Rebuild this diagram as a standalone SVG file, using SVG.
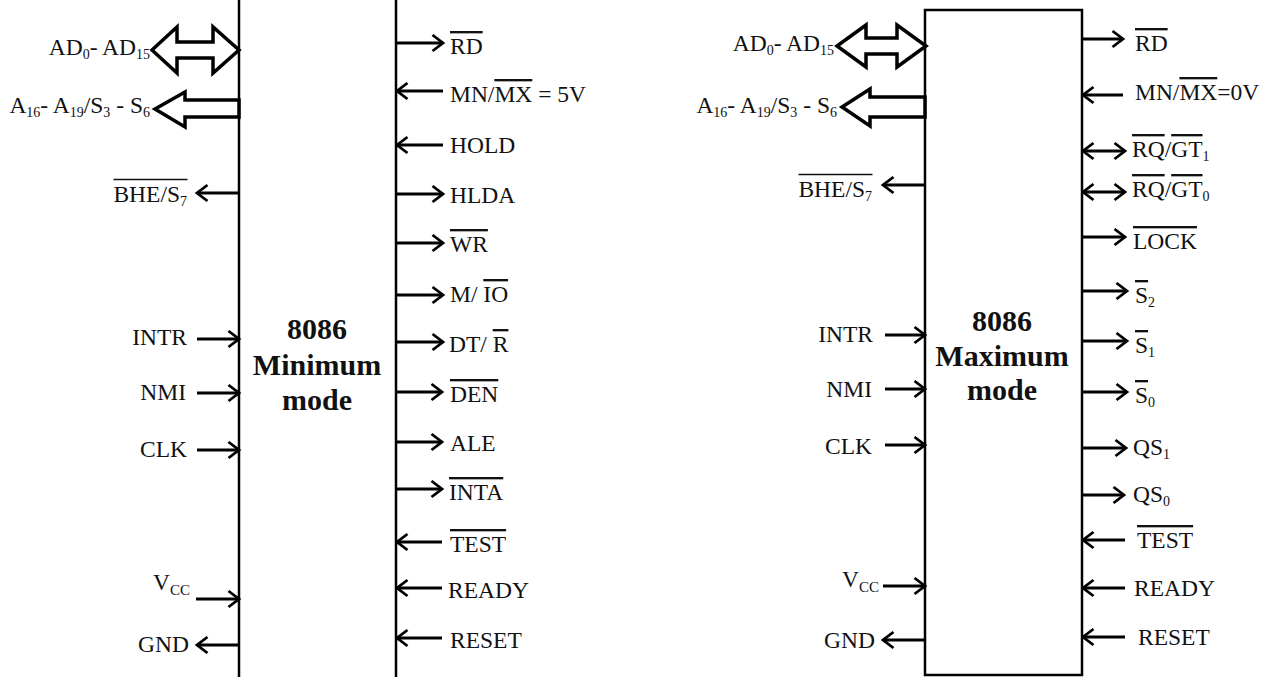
<svg xmlns="http://www.w3.org/2000/svg" width="1271" height="677" viewBox="0 0 1271 677">
<style>
.t{font-family:"Liberation Serif","Times New Roman",serif;font-size:23.5px;fill:#111}
.e{text-anchor:end}
.s{font-size:14px}
.ov{text-decoration:overline}
.ovl{stroke:#111;stroke-width:1.3}
.b{font-family:"Liberation Serif","Times New Roman",serif;font-weight:bold;font-size:30px;fill:#111;text-anchor:middle}
.chip{fill:#fff;stroke:#000;stroke-width:2.5}
.w{stroke:#000;stroke-width:2.8;fill:none;marker-end:url(#ah)}
.d{marker-start:url(#ah)}
.bus{fill:#fff;stroke:#000;stroke-width:3.5;stroke-linejoin:miter}
</style>
<defs>
<marker id="ah" markerUnits="userSpaceOnUse" viewBox="0 0 15 20" markerWidth="15" markerHeight="20" refX="12.5" refY="10" orient="auto-start-reverse">
<path d="M2,2 L12.5,10 L2,18" fill="none" stroke="#000" stroke-width="2.8"/>
</marker>
</defs>
<rect width="1271" height="677" fill="#fff"/>

<g id="chip-min">
<rect class="chip" x="239" y="-5" width="157" height="690"/>
<text class="b" x="317" y="339">8086</text>
<text class="b" x="317" y="375">Minimum</text>
<text class="b" x="317" y="410">mode</text>
</g>

<g id="chip-max">
<rect class="chip" x="925" y="10" width="157" height="665"/>
<text class="b" x="1002" y="331">8086</text>
<text class="b" x="1002" y="366">Maximum</text>
<text class="b" x="1002" y="400">mode</text>
</g>

<g id="connectors">
<polygon class="bus" points="152,50 177,27 177,42 213,42 213,27 239,50 213,73 213,58 177,58 177,73"/>
<polygon class="bus" points="155,109 185,92 185,100 239,100 239,117 185,117 185,127"/>
<line class="w" x1="239" y1="193" x2="197" y2="193"/>
<line class="w" x1="197" y1="339" x2="239" y2="339"/>
<line class="w" x1="197" y1="393" x2="239" y2="393"/>
<line class="w" x1="197" y1="450" x2="239" y2="450"/>
<line class="w" x1="196" y1="599" x2="239" y2="599"/>
<line class="w" x1="239" y1="645" x2="197" y2="645"/>
<line class="w" x1="396" y1="43" x2="443" y2="43"/>
<line class="w" x1="443" y1="91" x2="397" y2="91"/>
<line class="w" x1="443" y1="145" x2="397" y2="145"/>
<line class="w" x1="396" y1="194" x2="443" y2="194"/>
<line class="w" x1="396" y1="243" x2="443" y2="243"/>
<line class="w" x1="396" y1="295" x2="443" y2="295"/>
<line class="w" x1="396" y1="342" x2="443" y2="342"/>
<line class="w" x1="396" y1="392" x2="442" y2="392"/>
<line class="w" x1="396" y1="442" x2="442" y2="442"/>
<line class="w" x1="396" y1="489" x2="442" y2="489"/>
<line class="w" x1="442" y1="542" x2="397" y2="542"/>
<line class="w" x1="442" y1="588" x2="397" y2="588"/>
<line class="w" x1="442" y1="638" x2="397" y2="638"/>
<polygon class="bus" points="837,46 866,25 866,38 897,38 897,25 926,46 897,67 897,54 866,54 866,67"/>
<polygon class="bus" points="842,107 870,89 870,97 925,97 925,117 870,117 870,126"/>
<line class="w" x1="925" y1="185" x2="883" y2="185"/>
<line class="w" x1="885" y1="335" x2="925" y2="335"/>
<line class="w" x1="885" y1="389" x2="925" y2="389"/>
<line class="w" x1="885" y1="445" x2="925" y2="445"/>
<line class="w" x1="883" y1="586" x2="925" y2="586"/>
<line class="w" x1="925" y1="640" x2="883" y2="640"/>
<line class="w" x1="1082" y1="39" x2="1123" y2="39"/>
<line class="w" x1="1123" y1="95" x2="1083" y2="95"/>
<line class="w d" x1="1083" y1="151" x2="1125" y2="151"/>
<line class="w d" x1="1083" y1="192" x2="1125" y2="192"/>
<line class="w" x1="1082" y1="237" x2="1125" y2="237"/>
<line class="w" x1="1082" y1="291" x2="1127" y2="291"/>
<line class="w" x1="1082" y1="341" x2="1127" y2="341"/>
<line class="w" x1="1082" y1="392" x2="1127" y2="392"/>
<line class="w" x1="1082" y1="448" x2="1126" y2="448"/>
<line class="w" x1="1082" y1="495" x2="1124" y2="495"/>
<line class="w" x1="1125" y1="540" x2="1083" y2="540"/>
<line class="w" x1="1125" y1="588" x2="1083" y2="588"/>
<line class="w" x1="1125" y1="637" x2="1083" y2="637"/>
</g>

<g id="min-left-labels">
<g id="min-ad"><text class="t e" x="150" y="55">AD<tspan class="s" dy="4">0</tspan><tspan dy="-4">- AD</tspan><tspan class="s" dy="4">15</tspan></text></g>
<g id="min-a16"><text class="t e" x="150" y="113">A<tspan class="s" dy="4">16</tspan><tspan dy="-4">- A</tspan><tspan class="s" dy="4">19</tspan><tspan dy="-4">/S</tspan><tspan class="s" dy="4">3</tspan><tspan dy="-4"> - S</tspan><tspan class="s" dy="4">6</tspan></text></g>
<g id="min-bhe"><text class="t e" x="187" y="202">BHE/S<tspan class="s" dy="4">7</tspan></text><line class="ovl" x1="113.5" y1="179.5" x2="187.5" y2="179.5"/></g>
<g id="min-intr"><text class="t e" x="187" y="345">INTR</text></g>
<g id="min-nmi"><text class="t e" x="186" y="400">NMI</text></g>
<g id="min-clk"><text class="t e" x="187" y="457">CLK</text></g>
<g id="min-vcc"><text class="t" x="153" y="590">V<tspan font-size="15" dy="5">CC</tspan></text></g>
<g id="min-gnd"><text class="t e" x="189" y="652">GND</text></g>
</g>

<g id="min-right-labels">
<g id="min-rd"><text class="t" x="450" y="54"><tspan class="ov">RD</tspan></text></g>
<g id="min-mnmx"><text class="t" x="450" y="102">MN/<tspan class="ov">MX</tspan> = 5V</text></g>
<g id="min-hold"><text class="t" x="450" y="153">HOLD</text></g>
<g id="min-hlda"><text class="t" x="450" y="203">HLDA</text></g>
<g id="min-wr"><text class="t" x="450" y="252"><tspan class="ov">WR</tspan></text></g>
<g id="min-mio"><text class="t" x="450" y="302">M/ <tspan class="ov">IO</tspan></text></g>
<g id="min-dtr"><text class="t" x="449" y="352">DT/ <tspan class="ov">R</tspan></text></g>
<g id="min-den"><text class="t" x="450" y="402"><tspan class="ov">DEN</tspan></text></g>
<g id="min-ale"><text class="t" x="450" y="451">ALE</text></g>
<g id="min-inta"><text class="t" x="449" y="500"><tspan class="ov">INTA</tspan></text></g>
<g id="min-test"><text class="t" x="450" y="552"><tspan class="ov">TEST</tspan></text></g>
<g id="min-ready"><text class="t" x="448" y="598">READY</text></g>
<g id="min-reset"><text class="t" x="450" y="648">RESET</text></g>
</g>

<g id="max-left-labels">
<g id="max-ad"><text class="t e" x="834" y="51">AD<tspan class="s" dy="4">0</tspan><tspan dy="-4">- AD</tspan><tspan class="s" dy="4">15</tspan></text></g>
<g id="max-a16"><text class="t e" x="837" y="113">A<tspan class="s" dy="4">16</tspan><tspan dy="-4">- A</tspan><tspan class="s" dy="4">19</tspan><tspan dy="-4">/S</tspan><tspan class="s" dy="4">3</tspan><tspan dy="-4"> - S</tspan><tspan class="s" dy="4">6</tspan></text></g>
<g id="max-bhe"><text class="t e" x="872" y="197">BHE/S<tspan class="s" dy="4">7</tspan></text><line class="ovl" x1="798.5" y1="174.5" x2="872.5" y2="174.5"/></g>
<g id="max-intr"><text class="t e" x="873" y="342">INTR</text></g>
<g id="max-nmi"><text class="t e" x="872" y="397">NMI</text></g>
<g id="max-clk"><text class="t e" x="872" y="454">CLK</text></g>
<g id="max-vcc"><text class="t" x="842" y="587">V<tspan font-size="15" dy="5">CC</tspan></text></g>
<g id="max-gnd"><text class="t e" x="875" y="648">GND</text></g>
</g>

<g id="max-right-labels">
<g id="max-rd"><text class="t" x="1135" y="51"><tspan class="ov">RD</tspan></text></g>
<g id="max-mnmx"><text class="t" x="1135" y="100">MN/<tspan class="ov">MX</tspan>=0V</text></g>
<g id="max-rqgt1"><text class="t" x="1132" y="157"><tspan class="ov">RQ</tspan>/<tspan class="ov">GT</tspan><tspan class="s" dy="4">1</tspan></text></g>
<g id="max-rqgt0"><text class="t" x="1132" y="197"><tspan class="ov">RQ</tspan>/<tspan class="ov">GT</tspan><tspan class="s" dy="4">0</tspan></text></g>
<g id="max-lock"><text class="t" x="1133" y="249"><tspan class="ov">LOCK</tspan></text></g>
<g id="max-s2"><text class="t" x="1135" y="303"><tspan class="ov">S</tspan><tspan class="s" dy="4">2</tspan></text></g>
<g id="max-s1"><text class="t" x="1135" y="353"><tspan class="ov">S</tspan><tspan class="s" dy="4">1</tspan></text></g>
<g id="max-s0"><text class="t" x="1135" y="403"><tspan class="ov">S</tspan><tspan class="s" dy="4">0</tspan></text></g>
<g id="max-qs1"><text class="t" x="1133" y="455">QS<tspan class="s" dy="4">1</tspan></text></g>
<g id="max-qs0"><text class="t" x="1133" y="502">QS<tspan class="s" dy="4">0</tspan></text></g>
<g id="max-test"><text class="t" x="1137" y="548"><tspan class="ov">TEST</tspan></text></g>
<g id="max-ready"><text class="t" x="1134" y="596">READY</text></g>
<g id="max-reset"><text class="t" x="1138" y="645">RESET</text></g>
</g>
</svg>
